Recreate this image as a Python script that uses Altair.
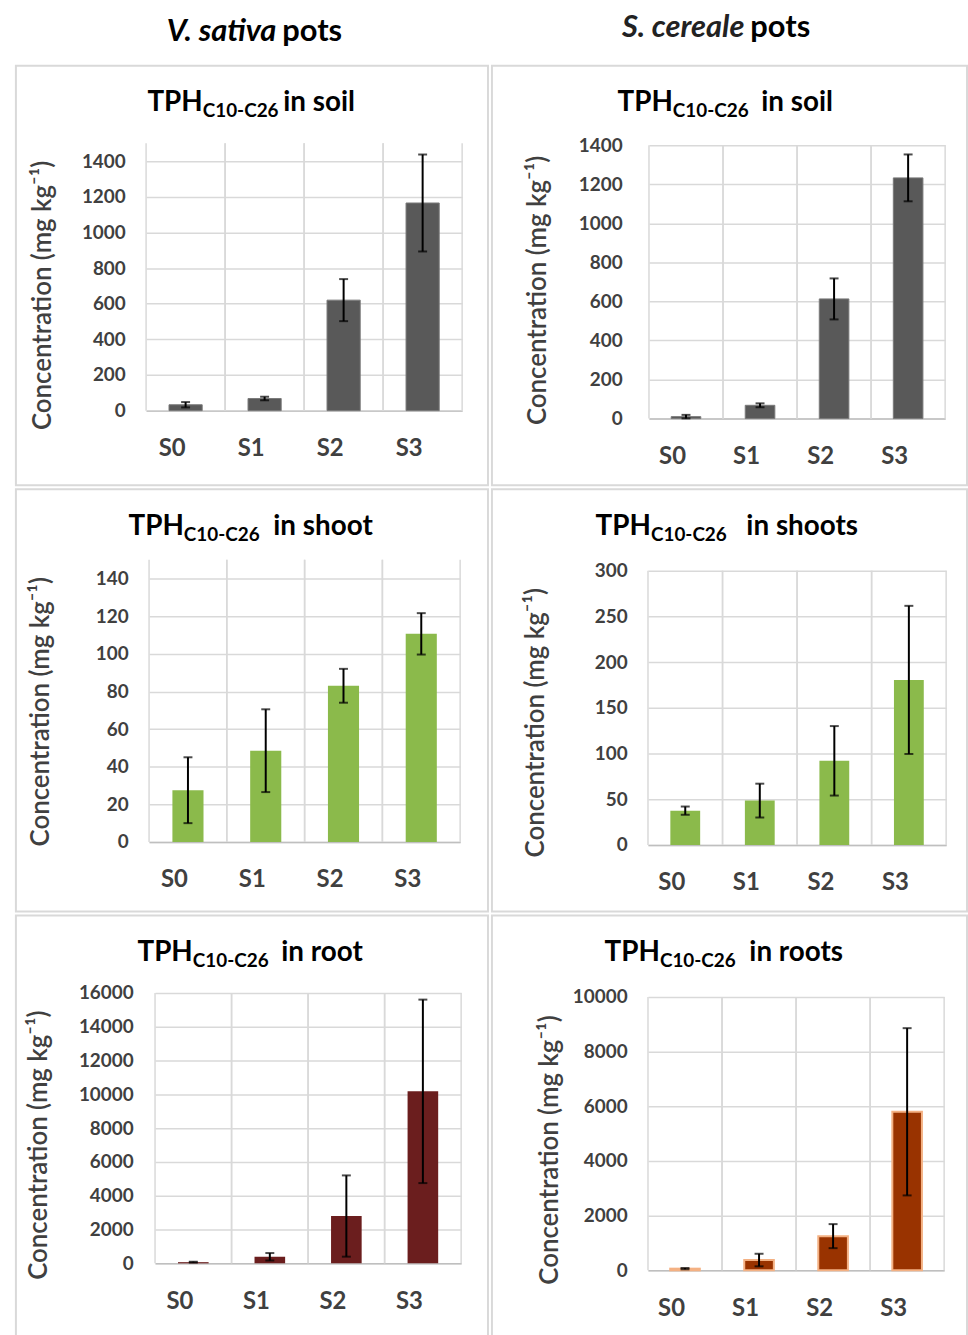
import altair as alt
import pandas as pd

# ---------------- data ----------------
cats = ["S0", "S1", "S2", "S3"]

vs_soil = [33, 68, 620, 1165]
vs_soil_err = [15, 10, 118, 272]
sc_soil = [10, 68, 613, 1233]
sc_soil_err = [9, 10, 105, 120]

vs_shoot = [27.5, 48.5, 83, 110.6]
vs_shoot_err = [17.5, 22, 9, 11]
sc_shoot = [37.5, 48.5, 92, 180.5]
sc_shoot_err = [4.5, 18.5, 38, 81]

vs_root = [70, 390, 2800, 10180]
vs_root_err = [25, 220, 2405, 5430]
sc_root = [60, 375, 1250, 5800]
sc_root_err = [25, 230, 440, 3060]

header_left = ["V. sativa", "pots"]
header_right = ["S. cereale", "pots"]
title_main = "TPH"
title_sub = "C10-C26"
title_tails = ["in soil", "in soil", "in shoot", "in shoots", "in root", "in roots"]
y_title = "Concentration (mg kg\u207b\u00b9)"

FONT = "Lato"
GRID = "#d9d9d9"
LABEL = "#404040"


def panel(values, errs, color, stroke, stroke_w, bar_w, dom_max, tick_step, tick_max,
          W, H, xr, yr, lab_pad, sub_x, tail_x, tail, yt_pos):
    df = pd.DataFrame({"cat": cats, "value": values, "err": errs})
    df["lo"] = (df["value"] - df["err"]).clip(lower=0)
    df["hi"] = df["value"] + df["err"]

    xs = alt.Scale(type="band", domain=cats, range=xr, paddingInner=0, paddingOuter=0)
    ys = alt.Scale(domain=[0, dom_max], range=yr, nice=False, zero=True)
    ticks = list(range(0, tick_max + 1, tick_step))

    xaxis = alt.Axis(title=None, offset=yr[0] - H, labelAngle=0, ticks=False,
                     domainColor="#bfbfbf", domainWidth=1.5, grid=False,
                     labelFont=FONT, labelFontSize=24, labelFontWeight="bold",
                     labelColor=LABEL, labelBaseline="middle", labelPadding=38)
    yaxis = alt.Axis(title=None, offset=-xr[0], values=ticks, format="d", ticks=False,
                     domain=False, grid=True, gridColor=GRID, gridWidth=1.5,
                     labelFont=FONT, labelFontSize=19, labelFontWeight="bold",
                     labelColor=LABEL, labelPadding=lab_pad)

    base = alt.Chart(df)
    bars = base.mark_bar(color=color, stroke=stroke, strokeWidth=stroke_w,
                         width=alt.RelativeBandSize(bar_w)).encode(
        x=alt.X("cat:N", scale=xs, axis=xaxis),
        y=alt.Y("value:Q", scale=ys, axis=yaxis),
    )
    v0 = base.mark_rule(color=GRID, strokeWidth=1.5).encode(
        x=alt.X("cat:N", bandPosition=0), y=alt.datum(dom_max), y2=alt.datum(0))
    v1 = base.mark_rule(color=GRID, strokeWidth=1.5).encode(
        x=alt.X("cat:N", bandPosition=1), y=alt.datum(dom_max), y2=alt.datum(0))
    err = base.mark_rule(color="black", strokeWidth=2).encode(
        x="cat:N", y="lo:Q", y2="hi:Q")
    cap_lo = base.mark_tick(color="black", size=9, thickness=2).encode(x="cat:N", y="lo:Q")
    cap_hi = base.mark_tick(color="black", size=9, thickness=2).encode(x="cat:N", y="hi:Q")

    t1 = alt.Chart(pd.DataFrame({"t": [title_main]})).mark_text(
        font=FONT, fontSize=28, fontWeight="bold", align="right", baseline="alphabetic",
        color="black").encode(text="t:N", x=alt.value(sub_x), y=alt.value(46))
    t2 = alt.Chart(pd.DataFrame({"t": [title_sub]})).mark_text(
        font=FONT, fontSize=19, fontWeight="bold", align="left", baseline="alphabetic",
        color="black").encode(text="t:N", x=alt.value(sub_x), y=alt.value(52))
    t3 = alt.Chart(pd.DataFrame({"t": [tail]})).mark_text(
        font=FONT, fontSize=28, fontWeight="bold", align="left", baseline="alphabetic",
        color="black").encode(text="t:N", x=alt.value(tail_x), y=alt.value(46))
    yt = alt.Chart(pd.DataFrame({"t": [y_title]})).mark_text(
        font=FONT, fontSize=26, fontWeight=600, angle=270, align="center",
        baseline="middle", color=LABEL).encode(
        text="t:N", x=alt.value(yt_pos[0]), y=alt.value(yt_pos[1]))

    return alt.layer(v0, v1, bars, err, cap_lo, cap_hi, t1, t2, t3, yt).properties(
        width=W, height=H)


tl = panel(vs_soil, vs_soil_err, "#595959", "#7a7a7a", 1, 0.42, 1500, 200, 1400,
           475, 422, [131, 449], [347, 78], 21, 188, 269, title_tails[0], (27, 231))
tr = panel(sc_soil, sc_soil_err, "#595959", "#7a7a7a", 1, 0.40, 1400, 200, 1400,
           478, 422, [158, 456], [355, 80], 27, 182, 271, title_tails[1], (46, 226))
ml = panel(vs_shoot, vs_shoot_err, "#8bba4b", "#8bba4b", 0, 0.40, 150, 20, 140,
           475, 425, [134, 447], [355, 71], 21, 169, 259, title_tails[2], (25, 224))
mr = panel(sc_shoot, sc_shoot_err, "#8bba4b", "#8bba4b", 0, 0.40, 300, 50, 300,
           478, 425, [157, 457], [358, 82], 21, 160, 256, title_tails[3], (44, 235))
bl = panel(vs_root, vs_root_err, "#6b1e1e", "#6b1e1e", 0, 0.40, 16000, 2000, 16000,
           475, 430, [140, 448], [350, 78], 22, 178, 267, title_tails[4], (23, 231))
br = panel(sc_root, sc_root_err, "#993300", "#f4b183", 2, 0.40, 10000, 2000, 10000,
           478, 430, [157, 455], [357, 82], 21, 169, 259, title_tails[5], (58, 236))


def header(parts, right_x, left_x, base_y, color_it, W):
    a = alt.Chart(pd.DataFrame({"t": [parts[0]]})).mark_text(
        font=FONT, fontSize=31, fontWeight="bold", fontStyle="italic", align="right",
        baseline="alphabetic", color=color_it).encode(
        text="t:N", x=alt.value(right_x), y=alt.value(base_y))
    b = alt.Chart(pd.DataFrame({"t": [parts[1]]})).mark_text(
        font=FONT, fontSize=31, fontWeight="bold", align="left",
        baseline="alphabetic", color="black").encode(
        text="t:N", x=alt.value(left_x), y=alt.value(base_y))
    return alt.layer(a, b).properties(width=W, height=57,
                                      view=alt.ViewBackground(stroke="transparent"))


hl = header(header_left, 262, 268, 36, "black", 475)
hr = header(header_right, 254, 260, 32, "#222222", 478)

chart = alt.concat(hl, hr, tl, tr, ml, mr, bl, br, columns=2, spacing=4,
                   bounds="flush").properties(
    padding={"left": 15, "top": 0, "right": 0, "bottom": 0},
    background="white",
).configure_view(stroke=GRID, strokeWidth=2)

chart.save("out.html", embed_options={"renderer": "svg", "actions": False})
